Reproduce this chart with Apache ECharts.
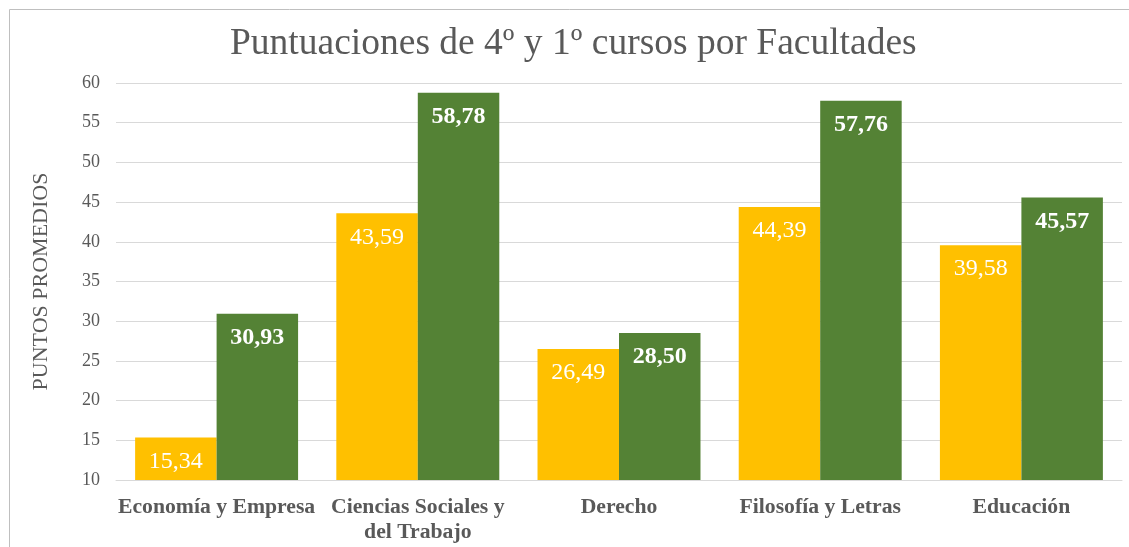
<!DOCTYPE html>
<html>
<head>
<meta charset="utf-8">
<script src="https://cdn.jsdelivr.net/npm/echarts@6/dist/echarts.min.js"></script>
<style>
  html, body { margin: 0; padding: 0; background: #fff; }
  #chart { width: 1129px; height: 547px; }
</style>
</head>
<body>
<div id="chart"></div>
<script>
// facultades y puntuaciones medias
const categories = ['Economía y Empresa', 'Ciencias Sociales y\ndel Trabajo', 'Derecho', 'Filosofía y Letras', 'Educación']
const cuarto = [15.34, 43.59, 26.49, 44.39, 39.58]
const primero = [30.93, 58.78, 28.50, 57.76, 45.57]
const yTicks = [10, 15, 20, 25, 30, 35, 40, 45, 50, 55, 60]

const serif = '"Liberation Serif", "Times New Roman", serif'
const grey = '#595959'

const fmt = p => p.value.toFixed(2).replace('.', ',')

const chart = echarts.init(document.getElementById('chart'))

chart.setOption({
	animation: false,
	graphic: [{
		type: 'rect',
		shape: { x: 9.5, y: 9.5, width: 1200, height: 600 },
		style: { fill: 'none', stroke: '#bfbfbf', lineWidth: 1 },
		silent: true
	}],
	title: {
		text: 'Puntuaciones de 4º y 1º cursos por Facultades',
		left: 225,
		top: 20,
		textStyle: {
			fontFamily: serif,
			fontWeight: 'normal',
			fontSize: 37.5,
			color: grey
		}
	},
	grid: {
		left: 116,
		right: 7,
		top: 83,
		bottom: 67
	},
	xAxis: {
		type: 'category',
		data: categories,
		axisLine: { lineStyle: { color: '#d9d9d9' } },
		axisTick: { show: false },
		axisLabel: {
			fontFamily: serif,
			fontWeight: 'bold',
			fontSize: 21.7,
			color: grey,
			lineHeight: 25,
			margin: 15,
			interval: 0
		}
	},
	yAxis: {
		type: 'value',
		min: yTicks[0],
		max: yTicks[yTicks.length - 1],
		interval: 5,
		name: 'PUNTOS PROMEDIOS',
		nameLocation: 'middle',
		nameGap: 64,
		nameTextStyle: {
			fontFamily: serif,
			fontSize: 22,
			color: grey
		},
		axisLine: { show: false },
		axisTick: { show: false },
		splitLine: { lineStyle: { color: '#d9d9d9' } },
		axisLabel: {
			fontFamily: serif,
			fontSize: 18,
			color: grey,
			margin: 16
		}
	},
	series: [{
		name: '4º curso',
		type: 'bar',
		data: cuarto,
		barGap: '0%',
		barCategoryGap: '19%',
		itemStyle: { color: '#FFC000' },
		label: {
			show: true,
			position: 'insideTop',
			distance: 12,
			formatter: fmt,
			fontFamily: serif,
			fontSize: 24,
			color: '#fff'
		}
	}, {
		name: '1º curso',
		type: 'bar',
		data: primero,
		barGap: '0%',
		barCategoryGap: '19%',
		itemStyle: { color: '#548235' },
		label: {
			show: true,
			position: 'insideTop',
			distance: 12,
			formatter: fmt,
			fontFamily: serif,
			fontWeight: 'bold',
			fontSize: 24,
			color: '#fff'
		}
	}]
})
</script>
</body>
</html>
